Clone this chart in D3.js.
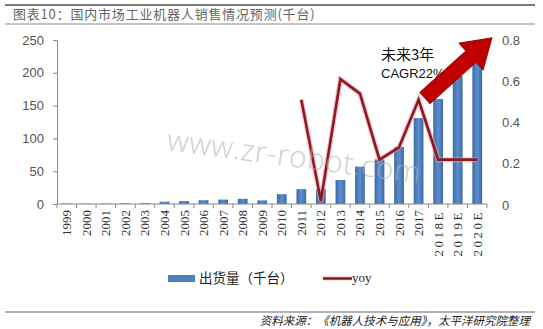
<!DOCTYPE html>
<html>
<head>
<meta charset="utf-8">
<script src="https://cdn.jsdelivr.net/npm/d3@7.9.0/dist/d3.min.js"></script>
<style>
  body { margin: 0; background: #fff; }
  svg { display: block; }
</style>
</head>
<body>
<svg id="chart" width="543" height="329"></svg>
<script>
// data
const years = ['1999', '2000', '2001', '2002', '2003', '2004', '2005', '2006', '2007', '2008',
  '2009', '2010', '2011', '2012', '2013', '2014', '2015', '2016', '2017', '2018E', '2019E', '2020E'];
const shipments = [0.7, 0.6, 0.7, 1.0, 1.2, 3.5, 4.5, 5.8, 6.7, 7.9,
  5.5, 15, 22.6, 23, 36.6, 57, 68, 87, 131, 160, 195, 238];
const yoyYears = ['2011', '2012', '2013', '2014', '2015', '2016', '2017', '2018E', '2019E', '2020E'];
const yoyValues = [0.51, 0.02, 0.61, 0.54, 0.22, 0.28, 0.51, 0.22, 0.22, 0.22];
const leftTicks = [0, 50, 100, 150, 200, 250];
const rightTicks = [0, 0.2, 0.4, 0.6, 0.8];

const svg = d3.select('#chart');
const plot = { left: 57, right: 487, top: 40, bottom: 204 };

const x = d3.scaleBand().domain(years).range([plot.left, plot.right]).paddingInner(0.5).paddingOuter(0.25);
const y = d3.scaleLinear().domain([0, 250]).range([plot.bottom, plot.top]);
const y2 = d3.scaleLinear().domain([0, 0.8]).range([plot.bottom + 1, plot.top]);

// frame lines + title
svg.append('line').attr('x1', 5).attr('x2', 535).attr('y1', 5).attr('y2', 5)
  .attr('stroke', '#7a7a7a').attr('stroke-width', 2);
svg.append('line').attr('x1', 5).attr('x2', 535).attr('y1', 24).attr('y2', 24)
  .attr('stroke', '#8a8a8a').attr('stroke-width', 1);
svg.append('text').attr('x', 13).attr('y', 19)
  .attr('font-family', 'Noto Sans CJK SC').attr('font-size', 13).attr('letter-spacing', 0.8)
  .attr('fill', '#666').text('图表10：国内市场工业机器人销售情况预测(千台)');

// bar gradient
const grad = svg.append('defs').append('linearGradient').attr('id', 'barGrad');
grad.append('stop').attr('offset', '0%').attr('stop-color', '#3d6aa5');
grad.append('stop').attr('offset', '50%').attr('stop-color', '#5b8fcf');
grad.append('stop').attr('offset', '100%').attr('stop-color', '#3d6aa5');

// bars
svg.append('g').selectAll('rect')
  .data(years.map((d, i) => ({ year: d, v: shipments[i] })))
  .join('rect')
  .attr('x', d => x(d.year))
  .attr('width', x.bandwidth())
  .attr('y', d => y(d.v))
  .attr('height', d => plot.bottom - y(d.v))
  .attr('fill', 'url(#barGrad)');

// left axis
const yAxis = svg.append('g')
  .attr('transform', `translate(${plot.left},0)`)
  .call(d3.axisLeft(y).tickValues(leftTicks).tickSize(4).tickPadding(9).tickSizeOuter(0));
yAxis.select('.domain').attr('stroke', '#888');
yAxis.selectAll('.tick line').attr('stroke', '#888');
yAxis.selectAll('text').attr('font-family', 'Liberation Sans').attr('font-size', 13).attr('fill', '#555');

// right axis
const y2Axis = svg.append('g')
  .attr('transform', `translate(${plot.right},0)`)
  .call(d3.axisRight(y2).tickValues(rightTicks).tickFormat(d => d === 0 ? '0' : d3.format('.1f')(d)).tickSize(0).tickPadding(15));
y2Axis.select('.domain').remove();
y2Axis.selectAll('text').attr('font-family', 'Liberation Sans').attr('font-size', 13).attr('fill', '#555');

// bottom axis, ticks between categories
const xg = svg.append('g');
xg.append('line').attr('x1', plot.left).attr('x2', plot.right)
  .attr('y1', plot.bottom).attr('y2', plot.bottom).attr('stroke', '#888');
xg.selectAll('line.tk').data(d3.range(years.length + 1)).join('line').attr('class', 'tk')
  .attr('x1', i => plot.left + i * (plot.right - plot.left) / years.length)
  .attr('x2', i => plot.left + i * (plot.right - plot.left) / years.length)
  .attr('y1', plot.bottom).attr('y2', plot.bottom + 4).attr('stroke', '#888');
xg.selectAll('text').data(years).join('text')
  .attr('transform', d => `translate(${x(d) + x.bandwidth() / 2 + 4.5},${plot.bottom + 6}) rotate(-90)`)
  .attr('text-anchor', 'end')
  .attr('font-family', 'Liberation Serif').attr('font-size', 13).attr('fill', '#333')
  .attr('letter-spacing', d => d.endsWith('E') ? 2.5 : 0)
  .text(d => d);

// yoy line
const line = d3.line().x((d, i) => x(yoyYears[i]) + x.bandwidth() / 2).y(d => y2(d));
svg.append('path').attr('d', line(yoyValues)).attr('fill', 'none')
  .attr('stroke', '#f2a0a8').attr('stroke-width', 5).attr('opacity', 0.6).attr('stroke-linejoin', 'miter');
svg.append('path').attr('d', line(yoyValues)).attr('fill', 'none')
  .attr('stroke', '#8c1822').attr('stroke-width', 2.6).attr('stroke-linejoin', 'miter');

// watermark
svg.append('text').attr('transform', 'translate(166,150) rotate(7.5)')
  .attr('font-family', 'Open Sans').attr('font-weight', 300).attr('font-size', 30).attr('letter-spacing', 0.5)
  .attr('fill', '#b0b0b0').attr('opacity', 0.6).text('www.zr-robot.com');

// annotation
svg.append('text').attr('x', 381).attr('y', 60)
  .attr('font-family', 'Noto Sans CJK SC').attr('font-size', 15).attr('fill', '#111').text('未来3年');
svg.append('text').attr('x', 381).attr('y', 78)
  .attr('font-family', 'Liberation Sans').attr('font-size', 13).attr('fill', '#111').text('CAGR22%');

// big red arrow
const arrow = svg.append('g').attr('transform', 'translate(425,98) rotate(-42)');
arrow.append('path')
  .attr('d', 'M0,-7.5 L62,-7.5 L62,-18 L90,0 L62,18 L62,7.5 L0,7.5 Z')
  .attr('fill', '#c00000').attr('stroke', '#a00000').attr('stroke-width', 1);

// legend
svg.append('rect').attr('x', 168).attr('y', 275).attr('width', 27).attr('height', 7).attr('fill', '#4f81bd');
svg.append('text').attr('x', 199).attr('y', 283)
  .attr('font-family', 'Noto Sans CJK SC').attr('font-size', 13.5).attr('fill', '#222').text('出货量（千台）');
svg.append('line').attr('x1', 323).attr('x2', 352).attr('y1', 278.5).attr('y2', 278.5)
  .attr('stroke', '#f2a0a8').attr('stroke-width', 4).attr('opacity', 0.6);
svg.append('line').attr('x1', 323).attr('x2', 352).attr('y1', 278.5).attr('y2', 278.5)
  .attr('stroke', '#7a1820').attr('stroke-width', 2.4);
svg.append('text').attr('x', 352).attr('y', 282)
  .attr('font-family', 'Liberation Serif').attr('font-size', 13).attr('fill', '#222').text('yoy');

// source
svg.append('line').attr('x1', 5).attr('x2', 535).attr('y1', 312).attr('y2', 312)
  .attr('stroke', '#666').attr('stroke-width', 1);
svg.append('text').attr('x', 530).attr('y', 325).attr('text-anchor', 'end')
  .attr('font-family', 'Noto Sans CJK SC').attr('font-size', 11.5).attr('font-style', 'italic')
  .attr('fill', '#222').text('资料来源：《机器人技术与应用》，太平洋研究院整理');
</script>
</body>
</html>
